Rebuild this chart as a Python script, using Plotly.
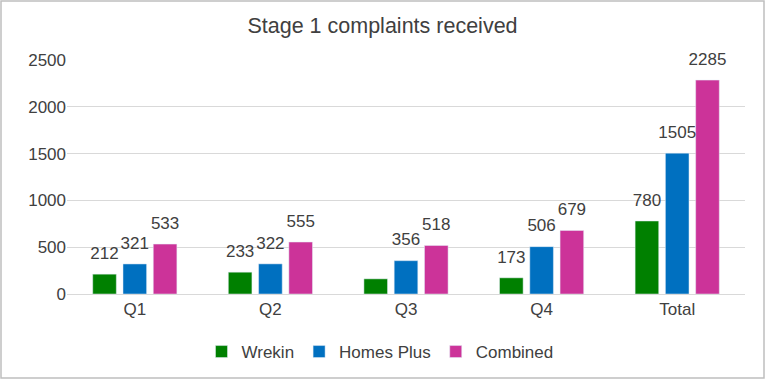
import plotly.graph_objects as go

categories = ["Q1", "Q2", "Q3", "Q4", "Total"]
wrekin = [212, 233, 162, 173, 780]
homes_plus = [321, 322, 356, 506, 1505]
combined = [533, 555, 518, 679, 2285]
wrekin_labels = ["212", "233", "", "173", "780"]
y_ticks = [0, 500, 1000, 1500, 2000, 2500]

W, H = 765, 379
ml, mr, mt, mb = 67, 20, 60, 85
pw = W - ml - mr
ph = H - mt - mb

fig = go.Figure()
series = [
    ("Wrekin", wrekin, "#008000", wrekin_labels),
    ("Homes Plus", homes_plus, "#0070C0", [str(v) for v in homes_plus]),
    ("Combined", combined, "#CC3399", [str(v) for v in combined]),
]
for i, (name, vals, col, txt) in enumerate(series):
    fig.add_trace(go.Bar(
        x=categories, y=vals, name=name, marker_color=col,
        offsetgroup=str(i), alignmentgroup="a",
    ))
for i, (name, vals, col, txt) in enumerate(series):
    fig.add_trace(go.Scatter(
        x=categories, y=vals, mode="markers+text", text=txt,
        textposition="top center", cliponaxis=False,
        marker=dict(size=16, opacity=0),
        textfont=dict(size=17, color="#404040"),
        offsetgroup=str(i), alignmentgroup="a",
        showlegend=False, hoverinfo="skip",
    ))

fig.add_shape(type="rect", xref="paper", yref="paper",
              x0=-(ml - 1) / pw, x1=1 + (mr - 1) / pw,
              y0=-(mb - 1) / ph, y1=1 + (mt - 1) / ph,
              line=dict(color="#BFBFBF", width=1.5), fillcolor="rgba(0,0,0,0)")

fig.update_layout(
    width=W, height=H,
    margin=dict(l=ml, r=mr, t=mt, b=mb, autoexpand=False),
    paper_bgcolor="white", plot_bgcolor="white",
    font=dict(family="Liberation Sans, Arial, sans-serif", color="#404040", size=17),
    title=dict(text="Stage 1 complaints received", x=0.5, xanchor="center",
               y=1 - 25 / H, yanchor="middle",
               font=dict(size=21.5, color="#404040")),
    barmode="group", bargap=0.33, bargroupgap=0.22,
    scattermode="group",
    showlegend=True,
    legend=dict(orientation="h", x=0.5 - 26 / pw, xanchor="center", y=-(352 - 294) / ph,
                yanchor="middle", font=dict(size=17, color="#404040"),
                itemwidth=30, traceorder="normal"),
    xaxis=dict(showgrid=False, showline=True, linecolor="#D9D9D9", linewidth=1,
               ticks="", tickfont=dict(size=17, color="#404040")),
    yaxis=dict(range=[0, 2500], tickvals=y_ticks, showgrid=True,
               gridcolor="#D9D9D9", gridwidth=1, zeroline=False,
               showline=False, ticks="", tickfont=dict(size=17, color="#404040")),
)

fig.write_html("out.html", config={"displayModeBar": False},
               post_script="document.body.style.margin='0';document.body.style.overflow='hidden';")
